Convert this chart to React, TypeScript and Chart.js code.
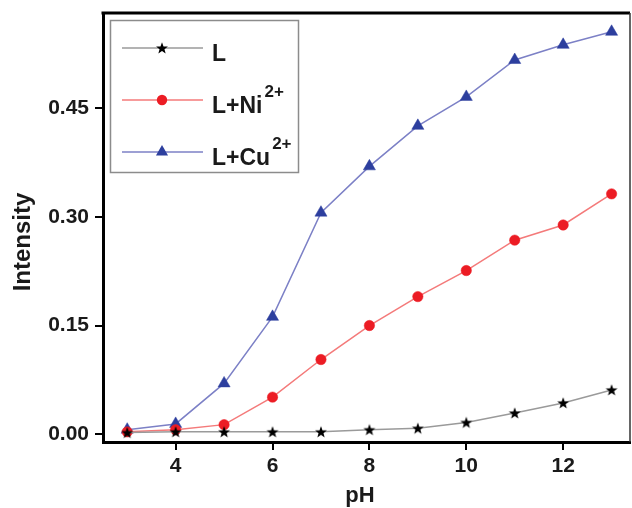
import React, { useEffect, useRef } from "react";
import { Chart, registerables } from "chart.js";
Chart.register(...registerables);

const phValues = [3, 4, 5, 6, 7, 8, 9, 10, 11, 12, 13];
const seriesL = [0.002, 0.003, 0.003, 0.003, 0.003, 0.006, 0.008, 0.016, 0.029, 0.043, 0.061];
const seriesNi = [0.003, 0.006, 0.013, 0.051, 0.103, 0.150, 0.190, 0.226, 0.268, 0.289, 0.332];
const seriesCu = [0.006, 0.014, 0.070, 0.162, 0.306, 0.370, 0.426, 0.466, 0.517, 0.538, 0.556];
const xTicks = [4, 6, 8, 10, 12];
const yTicks = [0, 0.15, 0.3, 0.45];
const legendBase = ["L", "L+Ni", "L+Cu"];
const legendSup = ["", "2+", "2+"];
const xTitle = "pH";
const yTitle = "Intensity";

const FONT = "'Liberation Sans', Arial, sans-serif";

function starPath(ctx: CanvasRenderingContext2D, cx: number, cy: number, ro: number, ri: number) {
  ctx.beginPath();
  for (let i = 0; i < 10; i++) {
    const r = i % 2 === 0 ? ro : ri;
    const a = -Math.PI / 2 + (i * Math.PI) / 5;
    const px = cx + Math.cos(a) * r;
    const py = cy + Math.sin(a) * r;
    if (i === 0) ctx.moveTo(px, py);
    else ctx.lineTo(px, py);
  }
  ctx.closePath();
}

function makeStar(): HTMLCanvasElement {
  const c = document.createElement("canvas");
  c.width = 14;
  c.height = 14;
  const ctx = c.getContext("2d")!;
  ctx.fillStyle = "#000";
  starPath(ctx, 7, 7.5, 6.2, 2.6);
  ctx.fill();
  return c;
}

export default function App() {
  const ref = useRef<HTMLCanvasElement | null>(null);

  useEffect(() => {
    if (!ref.current) return;
    const star = makeStar();
    const colors = [
      { line: "#9a9a9a", marker: "#000000" },
      { line: "#f47a7a", marker: "#ec1c24" },
      { line: "#7c80c6", marker: "#2d3f9e" },
    ];

    const overlay = {
      id: "overlay",
      afterDraw(chart: any) {
        const ctx = chart.ctx as CanvasRenderingContext2D;
        const a = chart.chartArea;
        ctx.save();
        // frame top & right
        ctx.strokeStyle = "#000";
        ctx.lineWidth = 3;
        ctx.beginPath();
        ctx.moveTo(a.left - 1.5, a.top);
        ctx.lineTo(a.right, a.top);
        ctx.stroke();
        ctx.strokeStyle = "#333";
        ctx.lineWidth = 1.5;
        ctx.beginPath();
        ctx.moveTo(a.right, a.top);
        ctx.lineTo(a.right, a.bottom);
        ctx.stroke();

        // axis titles
        ctx.fillStyle = "#1a1a1a";
        ctx.font = `bold 22px ${FONT}`;
        ctx.textAlign = "center";
        ctx.textBaseline = "alphabetic";
        ctx.fillText(xTitle, 360, 502);
        ctx.save();
        ctx.translate(30, 242);
        ctx.rotate(-Math.PI / 2);
        ctx.font = `bold 24px ${FONT}`;
        ctx.fillText(yTitle, 0, 0);
        ctx.restore();

        // legend
        ctx.strokeStyle = "#8c8c8c";
        ctx.lineWidth = 1.5;
        ctx.strokeRect(110.5, 20.5, 188, 152);
        const rows = [48, 100, 152];
        rows.forEach((ry, i) => {
          ctx.strokeStyle = colors[i].line;
          ctx.lineWidth = 1.5;
          ctx.beginPath();
          ctx.moveTo(122, ry);
          ctx.lineTo(203, ry);
          ctx.stroke();
          ctx.fillStyle = colors[i].marker;
          if (i === 0) {
            starPath(ctx, 162, ry + 0.5, 6.2, 2.6);
            ctx.fill();
          } else if (i === 1) {
            ctx.beginPath();
            ctx.arc(162, ry, 5.2, 0, Math.PI * 2);
            ctx.fill();
          } else {
            const r = 7;
            ctx.beginPath();
            for (let k = 0; k < 3; k++) {
              const ang = (k * 2 * Math.PI) / 3;
              const px = 162 + Math.sin(ang) * r;
              const py = ry - Math.cos(ang) * r;
              if (k === 0) ctx.moveTo(px, py);
              else ctx.lineTo(px, py);
            }
            ctx.closePath();
            ctx.fill();
          }
          ctx.fillStyle = "#1a1a1a";
          ctx.textAlign = "left";
          ctx.font = `bold 23px ${FONT}`;
          ctx.fillText(legendBase[i], 212, ry + 13);
          const w = ctx.measureText(legendBase[i]).width;
          if (legendSup[i]) {
            ctx.font = `bold 17px ${FONT}`;
            ctx.fillText(legendSup[i], 212 + w + 2, ry - 3.5);
          }
        });
        ctx.restore();
      },
    };

    const mk = (vals: number[]) => phValues.map((x, i) => ({ x, y: vals[i] }));

    const tickFont = { family: FONT, size: 21, weight: "bold" as const };
    const zeroPad = (s: any) => {
      s.paddingTop = 0;
      s.paddingBottom = 0;
      s.paddingLeft = 0;
      s.paddingRight = 0;
    };

    const chart = new Chart(ref.current, {
      type: "line",
      data: {
        datasets: [
          {
            label: "L",
            data: mk(seriesL),
            borderColor: colors[0].line,
            borderWidth: 1.5,
            pointStyle: star as any,
            pointRadius: 7,
            backgroundColor: colors[0].marker,
          },
          {
            label: "L+Ni2+",
            data: mk(seriesNi),
            borderColor: colors[1].line,
            borderWidth: 1.5,
            pointStyle: "circle",
            pointRadius: 5.2,
            pointBackgroundColor: colors[1].marker,
            pointBorderColor: colors[1].marker,
            pointBorderWidth: 0.5,
          },
          {
            label: "L+Cu2+",
            data: mk(seriesCu),
            borderColor: colors[2].line,
            borderWidth: 1.5,
            pointStyle: "triangle",
            pointRadius: 7,
            pointBackgroundColor: colors[2].marker,
            pointBorderColor: colors[2].marker,
            pointBorderWidth: 0.5,
          },
        ],
      },
      options: {
        responsive: false,
        animation: false,
        layout: { autoPadding: false, padding: { top: 13, right: 2, left: 0, bottom: 0 } },
        plugins: { legend: { display: false }, tooltip: { enabled: false }, title: { display: false } },
        scales: {
          x: {
            type: "linear",
            min: 2.5,
            max: 13.38,
            afterBuildTicks: (s: any) => {
              s.ticks = xTicks.map((v) => ({ value: v }));
            },
            afterFit: (s: any) => {
              s.height = 66;
              zeroPad(s);
            },
            grid: { display: true, drawOnChartArea: false, drawTicks: true, tickLength: 8, color: "#000", lineWidth: 2 },
            border: { display: true, color: "#000", width: 3 },
            ticks: { font: tickFont, color: "#1a1a1a", padding: 4, maxRotation: 0, autoSkip: false },
          },
          y: {
            type: "linear",
            min: -0.011,
            max: 0.582,
            afterBuildTicks: (s: any) => {
              s.ticks = yTicks.map((v) => ({ value: v }));
            },
            afterFit: (s: any) => {
              s.width = 103;
              zeroPad(s);
            },
            grid: { display: true, drawOnChartArea: false, drawTicks: true, tickLength: 8, color: "#000", lineWidth: 2 },
            border: { display: true, color: "#000", width: 3 },
            ticks: {
              font: tickFont,
              color: "#1a1a1a",
              padding: 6,
              autoSkip: false,
              callback: (v: any) => Number(v).toFixed(2),
            },
          },
        },
      },
      plugins: [overlay],
    });
    return () => chart.destroy();
  }, []);

  return (
    <div style={{ position: "absolute", left: 0, top: 0, width: 632, height: 508, background: "#fff" }}>
      <canvas ref={ref} width={632} height={508} />
    </div>
  );
}
